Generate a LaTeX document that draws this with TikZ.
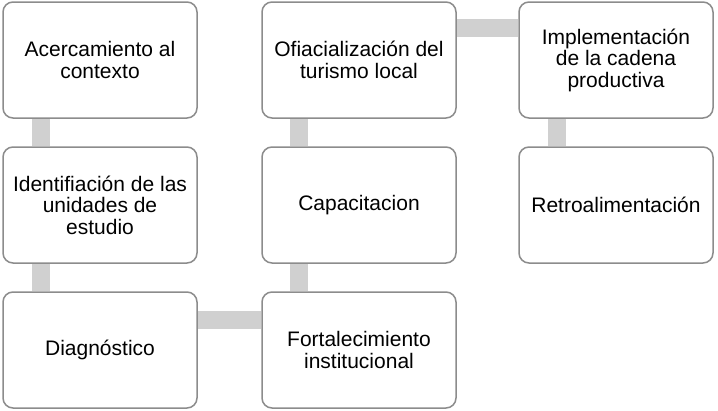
\documentclass[tikz,border=0pt]{standalone}
\usepackage{fontspec}
\setmainfont{Liberation Sans}
\begin{document}
\begin{tikzpicture}[x=1pt,y=-1pt,
  stepbox/.style={draw=boxgray, line width=1.5pt, rounded corners=10pt, fill=white,
    minimum width=194pt, minimum height=116pt, inner sep=0pt, align=center,
    font=\fontsize{21}{21.5}\selectfont},
  conn/.style={draw=conngray, line width=18pt}]
\definecolor{boxgray}{HTML}{8C8C8C}
\definecolor{conngray}{HTML}{D0D0D0}
\useasboundingbox (0,0) rectangle (718,410);
\node[stepbox] (b1) at (100,60) {Acercamiento al\\contexto};
\node[stepbox] (b2) at (100,205) {Identifiación de las\\unidades de\\estudio};
\node[stepbox] (b3) at (100,350) {Diagnóstico};
\node[stepbox] (b4) at (359,350) {Fortalecimiento\\institucional};
\node[stepbox] (b5) at (359,205) {Capacitacion};
\node[stepbox] (b6) at (359,60) {Ofiacialización del\\turismo local};
\node[stepbox] (b7) at (616,60) {Implementación\\de la cadena\\productiva};
\node[stepbox] (b8) at (616,205) {Retroalimentación};
\draw[conn] ([xshift=39pt]b1.south west) -- ([xshift=39pt]b2.north west);
\draw[conn] ([xshift=39pt]b2.south west) -- ([xshift=39pt]b3.north west);
\draw[conn] ([yshift=-29pt]b3.north east) -- ([yshift=-29pt]b4.north west);
\draw[conn] ([xshift=38pt]b4.north west) -- ([xshift=38pt]b5.south west);
\draw[conn] ([xshift=38pt]b5.north west) -- ([xshift=38pt]b6.south west);
\draw[conn] ([yshift=-27pt]b6.north east) -- ([yshift=-27pt]b7.north west);
\draw[conn] ([xshift=39pt]b7.south west) -- ([xshift=39pt]b8.north west);
\end{tikzpicture}
\end{document}
